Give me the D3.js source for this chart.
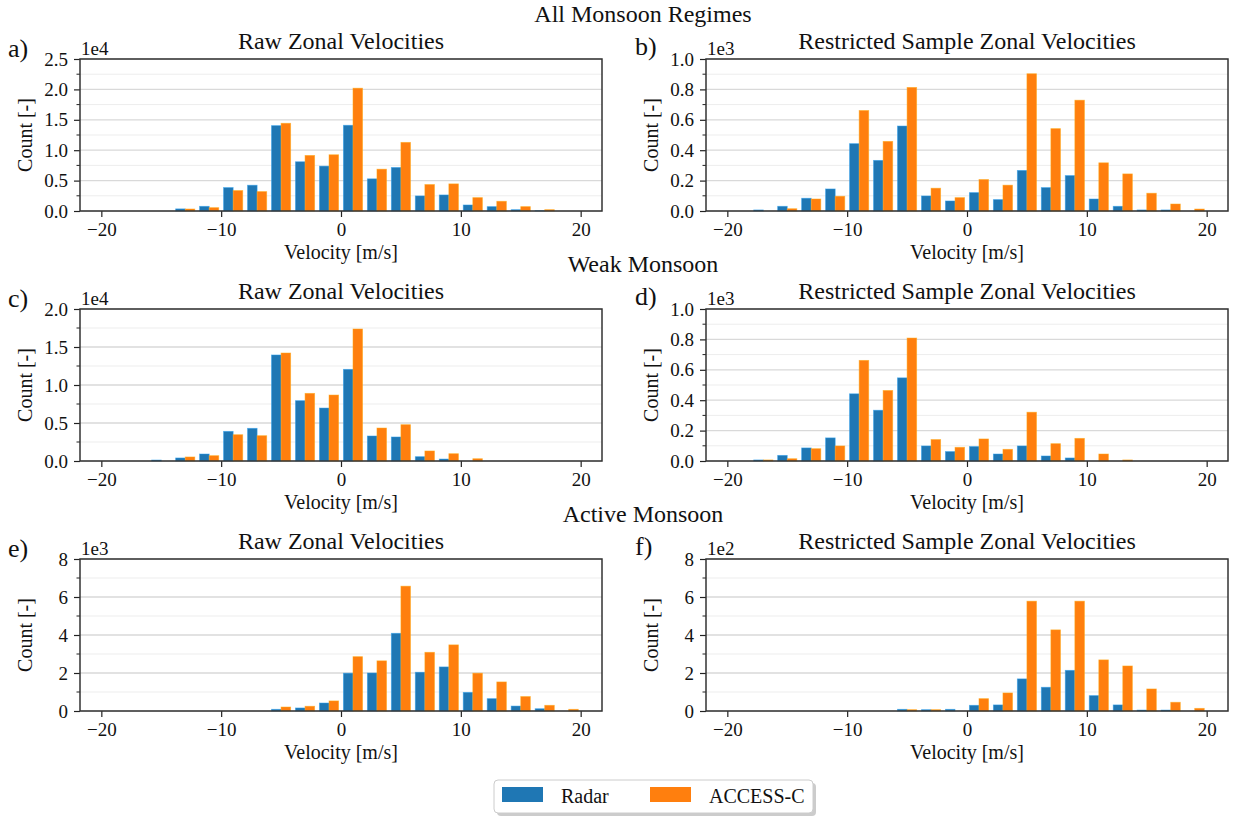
<!DOCTYPE html>
<html>
<head>
<meta charset="utf-8">
<script src="https://cdn.jsdelivr.net/npm/d3@7"></script>
<style>
  body { margin: 0; background: #fff; }
  svg text { font-family: 'Liberation Serif', serif; fill: #111; }
</style>
</head>
<body>
<svg id="chart" width="1235" height="816"></svg>
<script>
// bin centres (m/s), bins of width 2 from -20 to 20
const binCenters = [-19, -17, -15, -13, -11, -9, -7, -5, -3, -1, 1, 3, 5, 7, 9, 11, 13, 15, 17, 19];
const xTicks = [-20, -10, 0, 10, 20];
const seriesNames = ['Radar', 'ACCESS-C'];
const rowTitles = ['All Monsoon Regimes', 'Weak Monsoon', 'Active Monsoon'];
const panelTitles = ['Raw Zonal Velocities', 'Restricted Sample Zonal Velocities'];
const panelLetters = ['a)', 'b)', 'c)', 'd)', 'e)', 'f)'];

// counts per bin
const allRawRadar = [0, 0, 0, 350, 770, 3850, 4240, 14040, 8100, 7380, 14100, 5290, 7160, 2480, 2640, 990, 720, 220, 50, 0];
const allRawAccess = [0, 0, 0, 330, 550, 3360, 3190, 14430, 9140, 9250, 20200, 6880, 11290, 4350, 4460, 2200, 1600, 720, 220, 0];
const allResRadar = [0, 7, 31, 84, 145, 443, 333, 559, 99, 66, 121, 75, 267, 154, 233, 79, 31, 7, 7, 0];
const allResAccess = [0, 0, 15, 79, 97, 661, 458, 813, 150, 88, 207, 170, 903, 542, 729, 317, 244, 117, 46, 13];
const weakRawRadar = [0, 0, 130, 400, 920, 3900, 4300, 13950, 7940, 6970, 12060, 3290, 3160, 570, 260, 0, 0, 0, 0, 0];
const weakRawAccess = [0, 0, 0, 530, 700, 3460, 3330, 14210, 8900, 8680, 17370, 4340, 4780, 1320, 960, 300, 0, 0, 0, 0];
const weakResRadar = [0, 7, 37, 86, 152, 442, 334, 547, 99, 62, 95, 46, 99, 33, 20, 0, 0, 0, 0, 0];
const weakResAccess = [0, 7, 15, 81, 99, 662, 464, 809, 141, 90, 145, 77, 321, 114, 149, 46, 7, 0, 0, 0];
const activeRawRadar = [0, 0, 0, 0, 0, 0, 0, 90, 160, 420, 1990, 2000, 4090, 2040, 2320, 980, 650, 260, 120, 0];
const activeRawAccess = [0, 0, 0, 0, 0, 0, 0, 210, 250, 530, 2860, 2640, 6570, 3090, 3480, 1990, 1530, 760, 300, 90];
const activeResRadar = [0, 0, 0, 0, 0, 0, 0, 9, 7, 9, 30, 32, 169, 125, 214, 81, 32, 5, 5, 0];
const activeResAccess = [0, 0, 0, 0, 0, 0, 0, 7, 7, 0, 65, 95, 578, 427, 578, 269, 237, 116, 46, 14];

// y axis setup per panel: [max in scaled units, exponent, major step, minor step]
const yMax = [2.5, 1.0, 2.0, 1.0, 8, 8];
const yExp = [4, 3, 4, 3, 3, 2];
const yMajor = [0.5, 0.2, 0.5, 0.2, 2, 2];
const yMinor = [0.25, 0.1, 0.25, 0.1, 1, 1];

const panels = [
  [allRawRadar, allRawAccess], [allResRadar, allResAccess],
  [weakRawRadar, weakRawAccess], [weakResRadar, weakResAccess],
  [activeRawRadar, activeRawAccess], [activeResRadar, activeResAccess],
];

const colors = ['#1f77b4', '#ff7f0e'];
const svg = d3.select('#chart');

const colX = [80, 706];
const rowY = [59, 309, 559];
const size = { width: 522, height: 152 };
const barW = 0.8;

rowTitles.forEach((t, r) => {
  svg.append('text')
    .attr('x', 643)
    .attr('y', rowY[r] - 37)
    .attr('text-anchor', 'middle')
    .style('font-size', '24px')
    .text(t);
});

panels.forEach((series, i) => {
  const col = i % 2;
  const row = Math.floor(i / 2);
  const scale = Math.pow(10, yExp[i]);
  const g = svg.append('g').attr('transform', `translate(${colX[col]},${rowY[row]})`);

  const x = d3.scaleLinear().domain([-21.78, 21.78]).range([0, size.width]);
  const y = d3.scaleLinear().domain([0, yMax[i]]).range([size.height, 0]);

  const majors = d3.range(0, yMax[i] + 1e-9, yMajor[i]);
  const minors = d3.range(0, yMax[i] + 1e-9, yMinor[i]).filter((v) => Math.abs(v / yMajor[i] - Math.round(v / yMajor[i])) > 1e-6);

  // grid
  g.append('g').selectAll('line').data(minors).join('line')
    .attr('x1', 0).attr('x2', size.width)
    .attr('y1', (d) => y(d)).attr('y2', (d) => y(d))
    .attr('stroke', '#ededed').attr('stroke-width', 1);
  g.append('g').selectAll('line').data(majors).join('line')
    .attr('x1', 0).attr('x2', size.width)
    .attr('y1', (d) => y(d)).attr('y2', (d) => y(d))
    .attr('stroke', '#d9d9d9').attr('stroke-width', 1.3);

  // bars
  series.forEach((vals, s) => {
    g.append('g').selectAll('rect').data(vals).join('rect')
      .attr('x', (d, k) => x(binCenters[k] - barW + s * barW))
      .attr('width', x(barW) - x(0))
      .attr('y', (d) => y(d / scale))
      .attr('height', (d) => size.height - y(d / scale))
      .attr('fill', colors[s])
      .attr('stroke', d3.color(colors[s]).brighter(0.8).copy({ opacity: 0.6 }))
      .attr('stroke-width', 0.8);
  });

  // axes
  const ax = g.append('g')
    .attr('transform', `translate(0,${size.height})`)
    .call(d3.axisBottom(x).tickValues(xTicks).tickSize(6).tickPadding(6)
      .tickFormat((d) => (d < 0 ? '\u2212' + Math.abs(d) : d)));
  ax.select('.domain').remove();
  ax.selectAll('text').style('font-size', '19px');
  ax.selectAll('line').attr('stroke', '#222').attr('stroke-width', 1.2);

  const ay = g.append('g')
    .call(d3.axisLeft(y).tickValues(majors).tickSize(6).tickPadding(6)
      .tickFormat((d) => (yMajor[i] < 1 ? d3.format('.1f')(d) : d3.format('d')(d))));
  ay.select('.domain').remove();
  ay.selectAll('text').style('font-size', '19px');
  ay.selectAll('line').attr('stroke', '#222').attr('stroke-width', 1.2);
  g.append('g').selectAll('line').data(minors).join('line')
    .attr('x1', -3.5).attr('x2', 0)
    .attr('y1', (d) => y(d)).attr('y2', (d) => y(d))
    .attr('stroke', '#222').attr('stroke-width', 1);

  // frame
  g.append('rect')
    .attr('width', size.width).attr('height', size.height)
    .attr('fill', 'none').attr('stroke', '#333').attr('stroke-width', 1.5);

  // offset text
  g.append('text').attr('x', 1).attr('y', -4).style('font-size', '19px').text(`1e${yExp[i]}`);

  // titles and labels
  g.append('text')
    .attr('x', size.width / 2).attr('y', -10)
    .attr('text-anchor', 'middle').style('font-size', '24px')
    .text(panelTitles[col]);
  g.append('text')
    .attr('x', col === 0 ? -72 : -71).attr('y', col === 0 ? -2 : -4)
    .style('font-size', '26px')
    .text(panelLetters[i]);
  g.append('text')
    .attr('x', size.width / 2).attr('y', size.height + 48)
    .attr('text-anchor', 'middle').style('font-size', '20px')
    .text('Velocity [m/s]');
  g.append('text')
    .attr('transform', `translate(${-48},${size.height / 2}) rotate(-90)`)
    .attr('text-anchor', 'middle').style('font-size', '20px')
    .text('Count [-]');
});

// legend
const legend = svg.append('g').attr('transform', 'translate(494,780)');
legend.append('rect')
  .attr('x', 3).attr('y', 3).attr('width', 319).attr('height', 33).attr('rx', 4)
  .attr('fill', '#aaa').attr('opacity', 0.6);
legend.append('rect')
  .attr('width', 319).attr('height', 33).attr('rx', 4)
  .attr('fill', '#fff').attr('stroke', '#ccc').attr('stroke-width', 1);
const legendX = [8, 156];
seriesNames.forEach((name, s) => {
  legend.append('rect')
    .attr('x', legendX[s]).attr('y', 7).attr('width', 41).attr('height', 15)
    .attr('fill', colors[s]);
  legend.append('text')
    .attr('x', legendX[s] + 59).attr('y', 23)
    .style('font-size', '20px')
    .text(name);
});
</script>
</body>
</html>
